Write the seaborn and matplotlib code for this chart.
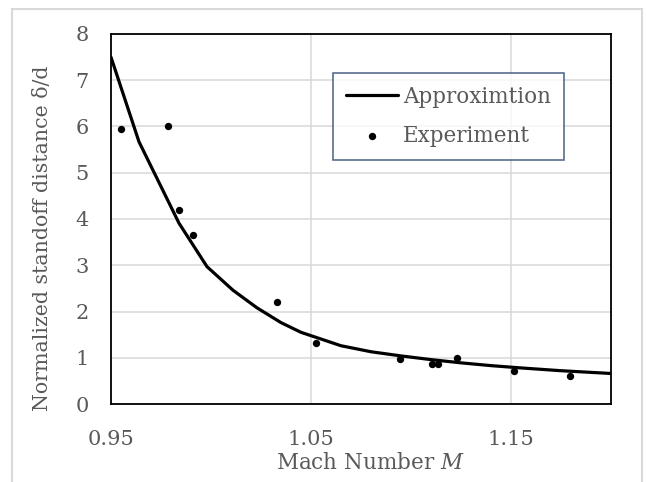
import numpy as np
import pandas as pd
import seaborn as sns
import matplotlib.pyplot as plt
from matplotlib.patches import Rectangle

# approximation curve
approx_mach = [0.950, 0.964, 0.984, 0.998, 1.011, 1.023, 1.035, 1.045, 1.065,
               1.080, 1.095, 1.110, 1.125, 1.140, 1.155, 1.175, 1.200]
approx_delta = [7.50, 5.67, 3.91, 2.97, 2.46, 2.08, 1.76, 1.55, 1.26,
                1.13, 1.04, 0.96, 0.89, 0.83, 0.78, 0.72, 0.66]

# experimental points
exp_mach = [0.9548, 0.9784, 0.9840, 0.9912, 1.0328, 1.0526, 1.0946,
            1.1107, 1.1137, 1.1231, 1.1513, 1.1797]
exp_delta = [5.94, 6.00, 4.19, 3.65, 2.21, 1.31, 0.97,
             0.87, 0.87, 1.00, 0.72, 0.61]

xticks = [0.95, 1.05, 1.15]
yticks = [0, 1, 2, 3, 4, 5, 6, 7, 8]

approx = pd.DataFrame({"M": approx_mach, "delta": approx_delta})
exper = pd.DataFrame({"M": exp_mach, "delta": exp_delta})

sns.set_theme(style="white")
plt.rcParams['font.family'] = ['DejaVu Serif']
plt.rcParams['mathtext.fontset'] = 'dejavuserif'
text_col = '#595959'

fig = plt.figure(figsize=(6.46, 4.82), dpi=100)
ax = fig.add_axes([0.1718, 0.1618, 0.774, 0.7677])

# chart-area border
fig.patches.append(Rectangle((0.0186, -0.05), 0.975, 1.031, transform=fig.transFigure,
                             fill=False, edgecolor='#d9d9d9', linewidth=1.5, zorder=0))

sns.lineplot(ax=ax, data=approx, x="M", y="delta", color='black', linewidth=2.3,
             label='Approximtion', zorder=3)
sns.scatterplot(ax=ax, data=exper, x="M", y="delta", color='black', s=28,
                edgecolor='black', linewidth=0, label='Experiment', zorder=4)

ax.set_xlim(0.95, 1.20)
ax.set_ylim(0, 8)
ax.set_xticks(xticks)
ax.set_xticklabels(["%.2f" % v for v in xticks])
ax.set_yticks(yticks)
ax.grid(True, color='#d9d9d9', linewidth=1.1)
ax.set_axisbelow(True)
for s in ax.spines.values():
    s.set_color('black')
    s.set_linewidth(1.3)
ax.tick_params(axis='both', length=0, labelsize=15, colors=text_col)
ax.tick_params(axis='x', pad=19)
ax.tick_params(axis='y', pad=16)

ax.set_xlabel("Mach Number $\\it{M}$", fontsize=15.5, color=text_col, va='center')
ax.set_ylabel("Normalized standoff distance δ/d", fontsize=14.8, color=text_col, va='center')
ax.xaxis.set_label_coords(0.518, -0.16)
ax.yaxis.set_label_coords(-0.136, 0.449)

leg = ax.legend(loc='upper left', bbox_to_anchor=(0.444, 0.895), fontsize=15.5,
                frameon=True, fancybox=False, borderaxespad=0, handlelength=2.4,
                handletextpad=0.25, borderpad=0.6, labelspacing=0.8)
leg.get_frame().set_edgecolor('#2f4a70')
leg.get_frame().set_linewidth(1.2)
for t in leg.get_texts():
    t.set_color(text_col)

fig.savefig("out.png", dpi=100)
